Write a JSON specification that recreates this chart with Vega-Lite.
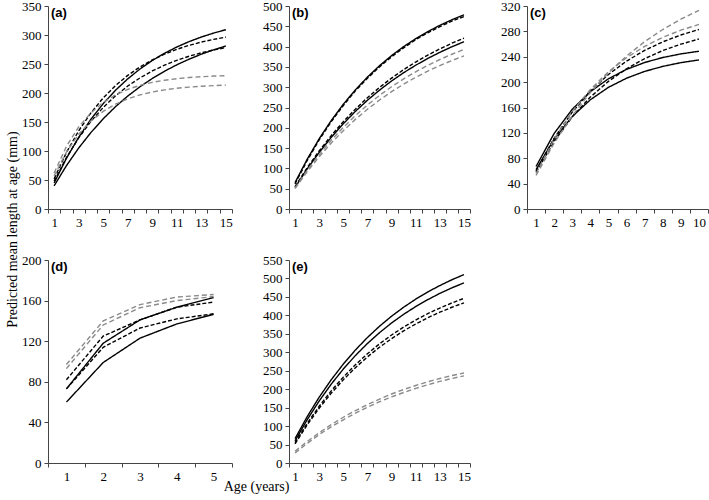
{
  "$schema": "https://vega.github.io/schema/vega-lite/v6.json",
  "background": "white",
  "padding": {"left": 5, "top": 0, "right": 0, "bottom": 2},
  "config": {
    "view": {"stroke": null},
    "font": "Liberation Serif",
    "axis": {"labelFont": "Liberation Serif", "labelFontSize": 13, "labelColor": "#000", "domainColor": "#444", "tickColor": "#444", "grid": false, "tickSize": 4, "labelPadding": 3, "domainWidth": 1, "tickWidth": 1, "titleFont": "Liberation Serif", "titleFontWeight": "normal", "titleFontSize": 14, "titleColor": "#000"},
    "title": {"font": "Liberation Sans", "fontWeight": "bold", "fontSize": 13, "color": "#000", "anchor": "start", "frame": "group", "baseline": "top", "offset": -20, "dx": 3}
  },
  "datasets": {
    "a": [
      {"s":"S1","a":1,"v":45},{"s":"S1","a":2,"v":87.3},{"s":"S1","a":3,"v":123.6},{"s":"S1","a":4,"v":154.8},{"s":"S1","a":5,"v":181.6},{"s":"S1","a":6,"v":204.6},{"s":"S1","a":7,"v":224.4},{"s":"S1","a":8,"v":241.4},{"s":"S1","a":9,"v":256},{"s":"S1","a":10,"v":268.5},{"s":"S1","a":11,"v":279.3},{"s":"S1","a":12,"v":288.6},{"s":"S1","a":13,"v":296.5},{"s":"S1","a":14,"v":303.3},{"s":"S1","a":15,"v":309.2},
      {"s":"S2","a":1,"v":40},{"s":"S2","a":2,"v":74.6},{"s":"S2","a":3,"v":105.1},{"s":"S2","a":4,"v":131.9},{"s":"S2","a":5,"v":155.5},{"s":"S2","a":6,"v":176.4},{"s":"S2","a":7,"v":194.7},{"s":"S2","a":8,"v":210.8},{"s":"S2","a":9,"v":225},{"s":"S2","a":10,"v":237.6},{"s":"S2","a":11,"v":248.6},{"s":"S2","a":12,"v":258.3},{"s":"S2","a":13,"v":266.9},{"s":"S2","a":14,"v":274.4},{"s":"S2","a":15,"v":281},
      {"s":"D1","a":1,"v":52},{"s":"D1","a":2,"v":97.3},{"s":"D1","a":3,"v":134.8},{"s":"D1","a":4,"v":165.8},{"s":"D1","a":5,"v":191.5},{"s":"D1","a":6,"v":212.8},{"s":"D1","a":7,"v":230.4},{"s":"D1","a":8,"v":244.9},{"s":"D1","a":9,"v":257},{"s":"D1","a":10,"v":267},{"s":"D1","a":11,"v":275.3},{"s":"D1","a":12,"v":282.1},{"s":"D1","a":13,"v":287.8},{"s":"D1","a":14,"v":292.5},{"s":"D1","a":15,"v":296.3},
      {"s":"D2","a":1,"v":48},{"s":"D2","a":2,"v":88.5},{"s":"D2","a":3,"v":122.5},{"s":"D2","a":4,"v":151.1},{"s":"D2","a":5,"v":175},{"s":"D2","a":6,"v":195.1},{"s":"D2","a":7,"v":212},{"s":"D2","a":8,"v":226.1},{"s":"D2","a":9,"v":238},{"s":"D2","a":10,"v":248},{"s":"D2","a":11,"v":256.4},{"s":"D2","a":12,"v":263.4},{"s":"D2","a":13,"v":269.3},{"s":"D2","a":14,"v":274.2},{"s":"D2","a":15,"v":278.3},
      {"s":"G1","a":1,"v":62},{"s":"G1","a":2,"v":107.9},{"s":"G1","a":3,"v":141.4},{"s":"G1","a":4,"v":165.9},{"s":"G1","a":5,"v":183.7},{"s":"G1","a":6,"v":196.8},{"s":"G1","a":7,"v":206.3},{"s":"G1","a":8,"v":213.2},{"s":"G1","a":9,"v":218.3},{"s":"G1","a":10,"v":222},{"s":"G1","a":11,"v":224.7},{"s":"G1","a":12,"v":226.7},{"s":"G1","a":13,"v":228.1},{"s":"G1","a":14,"v":229.2},{"s":"G1","a":15,"v":229.9},
      {"s":"G2","a":1,"v":57},{"s":"G2","a":2,"v":98.3},{"s":"G2","a":3,"v":128.9},{"s":"G2","a":4,"v":151.6},{"s":"G2","a":5,"v":168.3},{"s":"G2","a":6,"v":180.7},{"s":"G2","a":7,"v":189.9},{"s":"G2","a":8,"v":196.7},{"s":"G2","a":9,"v":201.7},{"s":"G2","a":10,"v":205.4},{"s":"G2","a":11,"v":208.2},{"s":"G2","a":12,"v":210.2},{"s":"G2","a":13,"v":211.7},{"s":"G2","a":14,"v":212.8},{"s":"G2","a":15,"v":213.6}
    ],
    "b": [
      {"s":"S1","a":1,"v":65},{"s":"S1","a":2,"v":122.1},{"s":"S1","a":3,"v":172.9},{"s":"S1","a":4,"v":217.9},{"s":"S1","a":5,"v":257.9},{"s":"S1","a":6,"v":293.4},{"s":"S1","a":7,"v":324.9},{"s":"S1","a":8,"v":352.9},{"s":"S1","a":9,"v":377.8},{"s":"S1","a":10,"v":399.9},{"s":"S1","a":11,"v":419.5},{"s":"S1","a":12,"v":436.9},{"s":"S1","a":13,"v":452.4},{"s":"S1","a":14,"v":466.1},{"s":"S1","a":15,"v":478.3},
      {"s":"D1","a":1,"v":62},{"s":"D1","a":2,"v":119},{"s":"D1","a":3,"v":170},{"s":"D1","a":4,"v":215},{"s":"D1","a":5,"v":255},{"s":"D1","a":6,"v":291},{"s":"D1","a":7,"v":322},{"s":"D1","a":8,"v":350},{"s":"D1","a":9,"v":375},{"s":"D1","a":10,"v":397},{"s":"D1","a":11,"v":417},{"s":"D1","a":12,"v":434},{"s":"D1","a":13,"v":449},{"s":"D1","a":14,"v":463},{"s":"D1","a":15,"v":474},
      {"s":"D2","a":1,"v":55},{"s":"D2","a":2,"v":101.2},{"s":"D2","a":3,"v":143},{"s":"D2","a":4,"v":180.8},{"s":"D2","a":5,"v":215.1},{"s":"D2","a":6,"v":246},{"s":"D2","a":7,"v":274.1},{"s":"D2","a":8,"v":299.4},{"s":"D2","a":9,"v":322.4},{"s":"D2","a":10,"v":343.2},{"s":"D2","a":11,"v":362},{"s":"D2","a":12,"v":379},{"s":"D2","a":13,"v":394.4},{"s":"D2","a":14,"v":408.3},{"s":"D2","a":15,"v":421},
      {"s":"S2","a":1,"v":53},{"s":"S2","a":2,"v":98.3},{"s":"S2","a":3,"v":139.3},{"s":"S2","a":4,"v":176.4},{"s":"S2","a":5,"v":210},{"s":"S2","a":6,"v":240.4},{"s":"S2","a":7,"v":267.9},{"s":"S2","a":8,"v":292.8},{"s":"S2","a":9,"v":315.3},{"s":"S2","a":10,"v":335.7},{"s":"S2","a":11,"v":354.1},{"s":"S2","a":12,"v":370.8},{"s":"S2","a":13,"v":385.9},{"s":"S2","a":14,"v":399.6},{"s":"S2","a":15,"v":412},
      {"s":"G1","a":1,"v":52},{"s":"G1","a":2,"v":95},{"s":"G1","a":3,"v":134},{"s":"G1","a":4,"v":169.2},{"s":"G1","a":5,"v":201.1},{"s":"G1","a":6,"v":230},{"s":"G1","a":7,"v":256.1},{"s":"G1","a":8,"v":279.8},{"s":"G1","a":9,"v":301.1},{"s":"G1","a":10,"v":320.5},{"s":"G1","a":11,"v":338},{"s":"G1","a":12,"v":353.9},{"s":"G1","a":13,"v":368.2},{"s":"G1","a":14,"v":381.2},{"s":"G1","a":15,"v":393},
      {"s":"G2","a":1,"v":50},{"s":"G2","a":2,"v":91.3},{"s":"G2","a":3,"v":128.6},{"s":"G2","a":4,"v":162.4},{"s":"G2","a":5,"v":193},{"s":"G2","a":6,"v":220.7},{"s":"G2","a":7,"v":245.7},{"s":"G2","a":8,"v":268.4},{"s":"G2","a":9,"v":288.9},{"s":"G2","a":10,"v":307.5},{"s":"G2","a":11,"v":324.3},{"s":"G2","a":12,"v":339.5},{"s":"G2","a":13,"v":353.3},{"s":"G2","a":14,"v":365.7},{"s":"G2","a":15,"v":377}
    ],
    "c": [
      {"s":"S1","a":1,"v":67},{"s":"S1","a":2,"v":119.1},{"s":"S1","a":3,"v":157.2},{"s":"S1","a":4,"v":185},{"s":"S1","a":5,"v":205.3},{"s":"S1","a":6,"v":220.1},{"s":"S1","a":7,"v":230.9},{"s":"S1","a":8,"v":238.8},{"s":"S1","a":9,"v":244.5},{"s":"S1","a":10,"v":248.7},
      {"s":"S2","a":1,"v":62},{"s":"S2","a":2,"v":110.2},{"s":"S2","a":3,"v":145.8},{"s":"S2","a":4,"v":172.2},{"s":"S2","a":5,"v":191.8},{"s":"S2","a":6,"v":206.2},{"s":"S2","a":7,"v":216.9},{"s":"S2","a":8,"v":224.8},{"s":"S2","a":9,"v":230.7},{"s":"S2","a":10,"v":235},
      {"s":"D1","a":1,"v":60},{"s":"D1","a":2,"v":111.5},{"s":"D1","a":3,"v":152.7},{"s":"D1","a":4,"v":185.7},{"s":"D1","a":5,"v":212.1},{"s":"D1","a":6,"v":233.2},{"s":"D1","a":7,"v":250},{"s":"D1","a":8,"v":263.5},{"s":"D1","a":9,"v":274.3},{"s":"D1","a":10,"v":283},
      {"s":"D2","a":1,"v":58},{"s":"D2","a":2,"v":106.5},{"s":"D2","a":3,"v":145.3},{"s":"D2","a":4,"v":176.4},{"s":"D2","a":5,"v":201.2},{"s":"D2","a":6,"v":221.1},{"s":"D2","a":7,"v":237},{"s":"D2","a":8,"v":249.7},{"s":"D2","a":9,"v":259.8},{"s":"D2","a":10,"v":268},
      {"s":"G1","a":1,"v":53},{"s":"G1","a":2,"v":103.8},{"s":"G1","a":3,"v":146.9},{"s":"G1","a":4,"v":183.6},{"s":"G1","a":5,"v":214.7},{"s":"G1","a":6,"v":241.2},{"s":"G1","a":7,"v":263.8},{"s":"G1","a":8,"v":282.9},{"s":"G1","a":9,"v":299.2},{"s":"G1","a":10,"v":313},
      {"s":"G2","a":1,"v":56},{"s":"G2","a":2,"v":110.3},{"s":"G2","a":3,"v":153.7},{"s":"G2","a":4,"v":188.4},{"s":"G2","a":5,"v":216.2},{"s":"G2","a":6,"v":238.5},{"s":"G2","a":7,"v":256.3},{"s":"G2","a":8,"v":270.5},{"s":"G2","a":9,"v":281.9},{"s":"G2","a":10,"v":291}
    ],
    "d": [
      {"s":"G1","a":1,"v":97},{"s":"G1","a":2,"v":140},{"s":"G1","a":3,"v":156},{"s":"G1","a":4,"v":163.5},{"s":"G1","a":5,"v":166},
      {"s":"G2","a":1,"v":93},{"s":"G2","a":2,"v":136},{"s":"G2","a":3,"v":153},{"s":"G2","a":4,"v":160},{"s":"G2","a":5,"v":164},
      {"s":"D1","a":1,"v":82},{"s":"D1","a":2,"v":125},{"s":"D1","a":3,"v":141},{"s":"D1","a":4,"v":153.5},{"s":"D1","a":5,"v":158.5},
      {"s":"S1","a":1,"v":73},{"s":"S1","a":2,"v":118},{"s":"S1","a":3,"v":141},{"s":"S1","a":4,"v":153.5},{"s":"S1","a":5,"v":163},
      {"s":"D2","a":1,"v":73},{"s":"D2","a":2,"v":114},{"s":"D2","a":3,"v":133},{"s":"D2","a":4,"v":142},{"s":"D2","a":5,"v":147},
      {"s":"S2","a":1,"v":60},{"s":"S2","a":2,"v":99},{"s":"S2","a":3,"v":123},{"s":"S2","a":4,"v":137},{"s":"S2","a":5,"v":146.5}
    ],
    "e": [
      {"s":"S1","a":1,"v":66},{"s":"S1","a":2,"v":125.2},{"s":"S1","a":3,"v":178.2},{"s":"S1","a":4,"v":225.6},{"s":"S1","a":5,"v":268},{"s":"S1","a":6,"v":306},{"s":"S1","a":7,"v":340},{"s":"S1","a":8,"v":370.5},{"s":"S1","a":9,"v":397.7},{"s":"S1","a":10,"v":422},{"s":"S1","a":11,"v":443.9},{"s":"S1","a":12,"v":463.4},{"s":"S1","a":13,"v":480.8},{"s":"S1","a":14,"v":496.5},{"s":"S1","a":15,"v":510.5},
      {"s":"S2","a":1,"v":60},{"s":"S2","a":2,"v":117},{"s":"S2","a":3,"v":168},{"s":"S2","a":4,"v":213.7},{"s":"S2","a":5,"v":254.5},{"s":"S2","a":6,"v":291.1},{"s":"S2","a":7,"v":323.8},{"s":"S2","a":8,"v":353.1},{"s":"S2","a":9,"v":379.4},{"s":"S2","a":10,"v":402.8},{"s":"S2","a":11,"v":423.8},{"s":"S2","a":12,"v":442.6},{"s":"S2","a":13,"v":459.5},{"s":"S2","a":14,"v":474.6},{"s":"S2","a":15,"v":488},
      {"s":"D1","a":1,"v":55},{"s":"D1","a":2,"v":107.1},{"s":"D1","a":3,"v":153.7},{"s":"D1","a":4,"v":195.4},{"s":"D1","a":5,"v":232.7},{"s":"D1","a":6,"v":266.1},{"s":"D1","a":7,"v":296},{"s":"D1","a":8,"v":322.8},{"s":"D1","a":9,"v":346.8},{"s":"D1","a":10,"v":368.2},{"s":"D1","a":11,"v":387.4},{"s":"D1","a":12,"v":404.6},{"s":"D1","a":13,"v":419.9},{"s":"D1","a":14,"v":433.7},{"s":"D1","a":15,"v":446},
      {"s":"D2","a":1,"v":52},{"s":"D2","a":2,"v":102.9},{"s":"D2","a":3,"v":148.4},{"s":"D2","a":4,"v":189.2},{"s":"D2","a":5,"v":225.6},{"s":"D2","a":6,"v":258.2},{"s":"D2","a":7,"v":287.5},{"s":"D2","a":8,"v":313.6},{"s":"D2","a":9,"v":337},{"s":"D2","a":10,"v":358},{"s":"D2","a":11,"v":376.7},{"s":"D2","a":12,"v":393.5},{"s":"D2","a":13,"v":408.5},{"s":"D2","a":14,"v":422},{"s":"D2","a":15,"v":434},
      {"s":"G1","a":1,"v":32},{"s":"G1","a":2,"v":58},{"s":"G1","a":3,"v":82},{"s":"G1","a":4,"v":104},{"s":"G1","a":5,"v":124},{"s":"G1","a":6,"v":142},{"s":"G1","a":7,"v":158},{"s":"G1","a":8,"v":173},{"s":"G1","a":9,"v":187},{"s":"G1","a":10,"v":199},{"s":"G1","a":11,"v":210},{"s":"G1","a":12,"v":220},{"s":"G1","a":13,"v":229},{"s":"G1","a":14,"v":237},{"s":"G1","a":15,"v":244},
      {"s":"G2","a":1,"v":27},{"s":"G2","a":2,"v":53},{"s":"G2","a":3,"v":77},{"s":"G2","a":4,"v":98},{"s":"G2","a":5,"v":117},{"s":"G2","a":6,"v":135},{"s":"G2","a":7,"v":151},{"s":"G2","a":8,"v":166},{"s":"G2","a":9,"v":179},{"s":"G2","a":10,"v":191},{"s":"G2","a":11,"v":202},{"s":"G2","a":12,"v":212},{"s":"G2","a":13,"v":221},{"s":"G2","a":14,"v":229},{"s":"G2","a":15,"v":236}
    ]
  },
  "columns": 3,
  "bounds": "flush",
  "spacing": {"column": 57, "row": 51},
  "concat": [
    {
      "width": 184, "height": 203,
      "data": {"name": "a"},
      "title": {"text": "(a)"},
      "mark": {"type": "line"},
      "encoding": {
        "x": {"field": "a", "type": "ordinal", "bandPosition": 0.5, "scale": {"type": "band", "paddingInner": 0, "paddingOuter": 0}, "axis": {"title": null, "tickBand": "extent", "labelAngle": 0, "labelOverlap": false, "labelExpr": "datum.value % 2 == 1 ? datum.label : ''"}},
        "y": {"field": "v", "type": "quantitative", "scale": {"domain": [0, 350], "nice": false}, "axis": {"title": "Predicted mean length at age (mm)", "titleAngle": -90, "titleX": -36, "titleY": 223, "titleAlign": "center", "titleBaseline": "middle", "titleAnchor": null, "values": [0, 50, 100, 150, 200, 250, 300, 350]}},
        "color": {"field": "s", "type": "nominal", "legend": null, "scale": {"domain": ["S1","S2","D1","D2","G1","G2"], "range": ["#000000","#000000","#000000","#000000","#8a8a8a","#8a8a8a"]}},
        "strokeDash": {"field": "s", "type": "nominal", "legend": null, "scale": {"domain": ["S1","S2","D1","D2","G1","G2"], "range": [[1,0],[1,0],[4,2],[4,2],[5,3],[5,3]]}},
        "strokeWidth": {"field": "s", "type": "nominal", "legend": null, "scale": {"domain": ["S1","S2","D1","D2","G1","G2"], "range": [1.4,1.4,1.4,1.4,1.2,1.2]}}
      }
    },
    {
      "width": 181, "height": 203,
      "data": {"name": "b"},
      "title": {"text": "(b)"},
      "mark": {"type": "line"},
      "encoding": {
        "x": {"field": "a", "type": "ordinal", "bandPosition": 0.5, "scale": {"type": "band", "paddingInner": 0, "paddingOuter": 0}, "axis": {"title": null, "tickBand": "extent", "labelAngle": 0, "labelOverlap": false, "labelExpr": "datum.value % 2 == 1 ? datum.label : ''"}},
        "y": {"field": "v", "type": "quantitative", "scale": {"domain": [0, 500], "nice": false}, "axis": {"title": null, "values": [0, 50, 100, 150, 200, 250, 300, 350, 400, 450, 500]}},
        "color": {"field": "s", "type": "nominal", "legend": null, "scale": {"domain": ["S1","S2","D1","D2","G1","G2"], "range": ["#000000","#000000","#000000","#000000","#8a8a8a","#8a8a8a"]}},
        "strokeDash": {"field": "s", "type": "nominal", "legend": null, "scale": {"domain": ["S1","S2","D1","D2","G1","G2"], "range": [[1,0],[1,0],[4,2],[4,2],[5,3],[5,3]]}},
        "strokeWidth": {"field": "s", "type": "nominal", "legend": null, "scale": {"domain": ["S1","S2","D1","D2","G1","G2"], "range": [1.4,1.4,1.4,1.4,1.2,1.2]}}
      }
    },
    {
      "width": 181, "height": 203,
      "data": {"name": "c"},
      "title": {"text": "(c)"},
      "mark": {"type": "line"},
      "encoding": {
        "x": {"field": "a", "type": "ordinal", "bandPosition": 0.5, "scale": {"type": "band", "paddingInner": 0, "paddingOuter": 0}, "axis": {"title": null, "tickBand": "extent", "labelAngle": 0, "labelOverlap": false}},
        "y": {"field": "v", "type": "quantitative", "scale": {"domain": [0, 320], "nice": false}, "axis": {"title": null, "values": [0, 40, 80, 120, 160, 200, 240, 280, 320]}},
        "color": {"field": "s", "type": "nominal", "legend": null, "scale": {"domain": ["S1","S2","D1","D2","G1","G2"], "range": ["#000000","#000000","#000000","#000000","#8a8a8a","#8a8a8a"]}},
        "strokeDash": {"field": "s", "type": "nominal", "legend": null, "scale": {"domain": ["S1","S2","D1","D2","G1","G2"], "range": [[1,0],[1,0],[4,2],[4,2],[5,3],[5,3]]}},
        "strokeWidth": {"field": "s", "type": "nominal", "legend": null, "scale": {"domain": ["S1","S2","D1","D2","G1","G2"], "range": [1.4,1.4,1.4,1.4,1.2,1.2]}}
      }
    },
    {
      "width": 184, "height": 203,
      "data": {"name": "d"},
      "title": {"text": "(d)"},
      "mark": {"type": "line"},
      "encoding": {
        "x": {"field": "a", "type": "ordinal", "bandPosition": 0.5, "scale": {"type": "band", "paddingInner": 0, "paddingOuter": 0}, "axis": {"title": "Age (years)", "titleX": 208, "titleY": 16, "titleAlign": "center", "titleBaseline": "top", "titleAnchor": null, "tickBand": "extent", "labelAngle": 0, "labelOverlap": false}},
        "y": {"field": "v", "type": "quantitative", "scale": {"domain": [0, 200], "nice": false}, "axis": {"title": null, "values": [0, 40, 80, 120, 160, 200]}},
        "color": {"field": "s", "type": "nominal", "legend": null, "scale": {"domain": ["S1","S2","D1","D2","G1","G2"], "range": ["#000000","#000000","#000000","#000000","#8a8a8a","#8a8a8a"]}},
        "strokeDash": {"field": "s", "type": "nominal", "legend": null, "scale": {"domain": ["S1","S2","D1","D2","G1","G2"], "range": [[1,0],[1,0],[4,2],[4,2],[5,3],[5,3]]}},
        "strokeWidth": {"field": "s", "type": "nominal", "legend": null, "scale": {"domain": ["S1","S2","D1","D2","G1","G2"], "range": [1.4,1.4,1.4,1.4,1.2,1.2]}}
      }
    },
    {
      "width": 181, "height": 203,
      "data": {"name": "e"},
      "title": {"text": "(e)"},
      "mark": {"type": "line"},
      "encoding": {
        "x": {"field": "a", "type": "ordinal", "bandPosition": 0.5, "scale": {"type": "band", "paddingInner": 0, "paddingOuter": 0}, "axis": {"title": null, "tickBand": "extent", "labelAngle": 0, "labelOverlap": false, "labelExpr": "datum.value % 2 == 1 ? datum.label : ''"}},
        "y": {"field": "v", "type": "quantitative", "scale": {"domain": [0, 550], "nice": false}, "axis": {"title": null, "values": [0, 50, 100, 150, 200, 250, 300, 350, 400, 450, 500, 550]}},
        "color": {"field": "s", "type": "nominal", "legend": null, "scale": {"domain": ["S1","S2","D1","D2","G1","G2"], "range": ["#000000","#000000","#000000","#000000","#8a8a8a","#8a8a8a"]}},
        "strokeDash": {"field": "s", "type": "nominal", "legend": null, "scale": {"domain": ["S1","S2","D1","D2","G1","G2"], "range": [[1,0],[1,0],[4,2],[4,2],[5,3],[5,3]]}},
        "strokeWidth": {"field": "s", "type": "nominal", "legend": null, "scale": {"domain": ["S1","S2","D1","D2","G1","G2"], "range": [1.4,1.4,1.4,1.4,1.2,1.2]}}
      }
    }
  ]
}
